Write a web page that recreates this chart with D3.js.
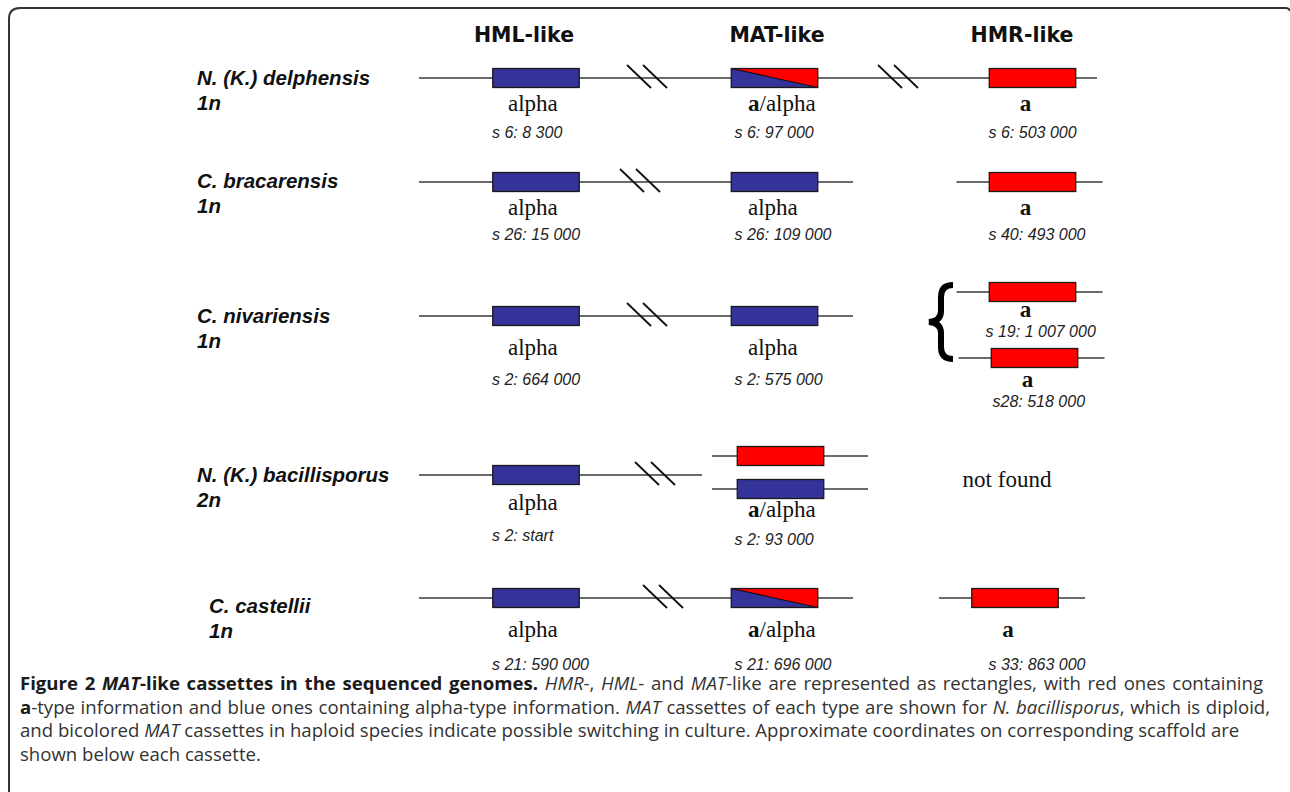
<!DOCTYPE html>
<html><head><meta charset="utf-8">
<script src="https://cdn.jsdelivr.net/npm/d3@7"></script>
<style>body{margin:0;background:#fff} svg{display:block}</style>
</head><body><svg id="c" width="1290" height="792"></svg>
<script>
// ---------- data ----------
const columns = ["HML-like", "MAT-like", "HMR-like"];
const species = ["N. (K.) delphensis", "C. bracarensis", "C. nivariensis", "N. (K.) bacillisporus", "C. castellii"];
const ploidy = ["1n", "1n", "1n", "2n", "1n"];
const hmlBoxes = [["alpha"], ["alpha"], ["alpha"], ["alpha"], ["alpha"]];
const hmlLabel = ["alpha", "alpha", "alpha", "alpha", "alpha"];
const hmlCoord = ["s 6: 8 300", "s 26: 15 000", "s 2: 664 000", "s 2: start", "s 21: 590 000"];
const matBoxes = [["a/alpha"], ["alpha"], ["alpha"], ["a", "alpha"], ["a/alpha"]];
const matLabel = ["a/alpha", "alpha", "alpha", "a/alpha", "a/alpha"];
const matCoord = ["s 6: 97 000", "s 26: 109 000", "s 2: 575 000", "s 2: 93 000", "s 21: 696 000"];
const hmrBoxes = [["a"], ["a"], ["a", "a"], [], ["a"]];
const hmrLabel = [["a"], ["a"], ["a", "a"], ["not found"], ["a"]];
const hmrCoord = [["s 6: 503 000"], ["s 40: 493 000"], ["s 19: 1 007 000", "s28: 518 000"], [], ["s 33: 863 000"]];
const matHmrLinked = [true, false, false, false, false];
const captionLines = [
  [["Figure 2 ", "b"], ["MAT", "bi"], ["-like cassettes in the sequenced genomes. ", "b"], ["HMR", "i"], ["-, ", ""], ["HML", "i"], ["- and ", ""], ["MAT", "i"], ["-like are represented as rectangles, with red ones containing", ""]],
  [["a", "b"], ["-type information and blue ones containing alpha-type information. ", ""], ["MAT", "i"], [" cassettes of each type are shown for ", ""], ["N. bacillisporus", "i"], [", which is diploid,", ""]],
  [["and bicolored ", ""], ["MAT", "i"], [" cassettes in haploid species indicate possible switching in culture. Approximate coordinates on corresponding scaffold are", ""]],
  [["shown below each cassette.", ""]]
];

// ---------- layout ----------
const L = {
  lineStart: 419, boxW: 86.5, boxH: 19,
  speciesX: [197, 197, 197, 197, 209],
  speciesDy: [7, 6, 7, 7, 15],
  labelBase: [111, 215, 355, 510, 637],
  coordBase: [138, 240, 385, 541, 670],
  breakX: [627, 620, 627, 635, 643],
  linkBreakX: 878,
  diploidDy: [-19, 14], diploidDx: 6,
  splitDy: [-24, 42], splitDx: [0, 2],
  splitLabel: [317, 387], splitCoord: [337, 407],
  hmrShift: [0, 0, 0, 0, -17.5],
  captionX: 20, captionBase: [690, 714, 737.5, 761], captionEnd: [1263, 1270, 1240, null]
};

const svg = d3.select("#c");
const colX = d3.scaleOrdinal().domain(columns).range([536, 774.5, 1032.5]);
const headX = d3.scaleOrdinal().domain(columns).range([524, 777, 1022]);
const rowY = d3.scaleOrdinal().domain(species).range([78, 182, 316, 475, 598]);
const fill = d3.scaleOrdinal().domain(["alpha", "a"]).range(["#333399", "#ff0000"]);
const LINE = "#3a3a3a";

// frame
svg.append("path").attr("d", "M9,800 V19 Q9,8 20,8 H1286 Q1289,8 1290,11")
  .attr("fill", "none").attr("stroke", "#333").attr("stroke-width", 2);

// headers
svg.selectAll("text.head").data(columns).join("text").attr("class", "head")
  .attr("x", d => headX(d)).attr("y", 42).attr("text-anchor", "middle")
  .attr("font-family", "DejaVu Sans").attr("font-weight", "bold").attr("font-size", 20.5)
  .attr("fill", "#111").text(d => d);

// species labels
species.forEach((sp, i) => {
  const y = rowY(sp) + L.speciesDy[i];
  [sp, ploidy[i]].forEach((t, k) => {
    svg.append("text").attr("x", L.speciesX[i]).attr("y", y + 25 * k)
      .attr("font-family", "Liberation Sans, Arial").attr("font-weight", "bold")
      .attr("font-style", "italic").attr("font-size", 20.5).attr("fill", "#111").text(t);
  });
});

// build geometry from data
const segs = [], boxes = [], breaks = [], labels = [], coords = [];
species.forEach((sp, i) => {
  const y = rowY(sp);
  const hx = colX("HML-like"), mx = colX("MAT-like"), rx = colX("HMR-like") + L.hmrShift[i];
  // HML
  hmlBoxes[i].forEach(t => boxes.push({ x: hx, y, t }));
  labels.push({ x: hx - 28, y: L.labelBase[i], t: hmlLabel[i], anchor: "start" });
  coords.push({ x: hx - 44, y: L.coordBase[i], t: hmlCoord[i] });
  // MAT
  const diploid = matBoxes[i].length > 1;
  if (diploid) {
    segs.push({ x1: L.lineStart, x2: 702, y });
    matBoxes[i].forEach((t, k) => {
      const yy = y + L.diploidDy[k], xx = mx + L.diploidDx;
      segs.push({ x1: xx - 68.5, x2: xx + 87.5, y: yy });
      boxes.push({ x: xx, y: yy, t });
    });
  } else {
    const end = matHmrLinked[i] ? rx + 64.5 : mx + 78.5;
    segs.push({ x1: L.lineStart, x2: end, y });
    matBoxes[i].forEach(t => boxes.push({ x: mx, y, t }));
    if (matHmrLinked[i]) breaks.push({ x: L.linkBreakX, y });
  }
  breaks.push({ x: L.breakX[i], y });
  labels.push({ x: mx - 26.5, y: L.labelBase[i] + (diploid ? 7 : 0), t: matLabel[i], anchor: "start" });
  coords.push({ x: mx - 40, y: L.coordBase[i] + (diploid ? 4 : 0), t: matCoord[i] });
  // HMR
  const nb = hmrBoxes[i].length;
  if (nb === 0) {
    labels.push({ x: 1007, y: 487, t: hmrLabel[i][0], anchor: "middle" });
  }
  hmrBoxes[i].forEach((t, k) => {
    const split = nb > 1;
    const yy = split ? y + L.splitDy[k] : y;
    const xx = split ? rx + L.splitDx[k] : rx;
    if (!matHmrLinked[i]) segs.push({ x1: xx - 76, x2: xx + 70, y: yy });
    boxes.push({ x: xx, y: yy, t });
    labels.push({ x: xx - 7, y: split ? L.splitLabel[k] : L.labelBase[i], t: hmrLabel[i][k], anchor: "middle" });
    coords.push({ x: split ? xx - 47 + 5 * k : colX("HMR-like") - 44, y: split ? L.splitCoord[k] : L.coordBase[i], t: hmrCoord[i][k] });
  });
});

// lines
svg.append("g").selectAll("line").data(segs).join("line")
  .attr("x1", d => d.x1).attr("x2", d => d.x2).attr("y1", d => d.y).attr("y2", d => d.y)
  .attr("stroke", LINE).attr("stroke-width", 1.5);

// break marks
const gb = svg.append("g");
breaks.forEach(b => {
  [0, 16].forEach(o => {
    gb.append("line").attr("x1", b.x + o).attr("y1", b.y - 13).attr("x2", b.x + o + 24).attr("y2", b.y + 10)
      .attr("stroke", "#111").attr("stroke-width", 1.8);
  });
});

// boxes
const gx = svg.append("g");
boxes.forEach(b => {
  const x0 = b.x - L.boxW / 2, y0 = b.y - L.boxH / 2, x1 = x0 + L.boxW, y1 = y0 + L.boxH;
  if (b.t === "a/alpha") {
    gx.append("rect").attr("x", x0).attr("y", y0).attr("width", L.boxW).attr("height", L.boxH).attr("fill", fill("alpha"));
    gx.append("path").attr("d", `M${x0},${y0} L${x1},${y0} L${x1},${y1} Z`).attr("fill", fill("a"));
    gx.append("line").attr("x1", x0).attr("y1", y0).attr("x2", x1).attr("y2", y1).attr("stroke", "#111").attr("stroke-width", 1.2);
    gx.append("rect").attr("x", x0).attr("y", y0).attr("width", L.boxW).attr("height", L.boxH)
      .attr("fill", "none").attr("stroke", "#1a1a1a").attr("stroke-width", 1.3);
  } else {
    gx.append("rect").attr("x", x0).attr("y", y0).attr("width", L.boxW).attr("height", L.boxH)
      .attr("fill", fill(b.t)).attr("stroke", "#1a1a1a").attr("stroke-width", 1.3);
  }
});

// brace
svg.append("path")
  .attr("d", "M953,285 Q941,285 941,297 L941,311 Q941,321 929,322 Q941,323 941,333 L941,347 Q941,359 953,359")
  .attr("fill", "none").attr("stroke", "#000").attr("stroke-width", 6);

// cassette labels
labels.forEach(l => {
  const t = svg.append("text").attr("x", l.x).attr("y", l.y).attr("text-anchor", l.anchor)
    .attr("font-family", "Liberation Serif, Times New Roman").attr("font-size", 23).attr("fill", "#111");
  if (l.t === "a/alpha") { t.append("tspan").attr("font-weight", "bold").text("a"); t.append("tspan").text("/alpha"); }
  else if (l.t === "a") t.append("tspan").attr("font-weight", "bold").text("a");
  else t.text(l.t);
});

// coordinates
svg.selectAll("text.coord").data(coords).join("text").attr("class", "coord")
  .attr("x", d => d.x).attr("y", d => d.y)
  .attr("font-family", "Liberation Sans, Arial").attr("font-style", "italic").attr("font-size", 16)
  .attr("fill", "#222").text(d => d.t);

// caption
const cg = svg.append("g");
const capTexts = captionLines.map((segsC, li) => {
  const t = cg.append("text").attr("x", 0).attr("y", L.captionBase[li])
    .attr("font-family", "Open Sans").attr("font-size", 17.5).attr("fill", "#333");
  segsC.forEach(([s, st]) => {
    const ts = t.append("tspan").text(s);
    if (st.includes("b")) ts.attr("font-weight", "bold").attr("fill", "#1a1a1a");
    if (st.includes("i")) ts.attr("font-style", "italic");
  });
  return t;
});
const nat3 = capTexts[2].node().getComputedTextLength();
const sx = (L.captionEnd[2] - L.captionX) / nat3;
cg.attr("transform", `translate(${L.captionX},0) scale(${sx},1)`);
capTexts.forEach((t, li) => {
  if (li >= 2) return;
  const w = t.node().getComputedTextLength();
  const full = captionLines[li].map(d => d[0]).join("");
  const nSp = (full.match(/ /g) || []).length;
  const ws = ((L.captionEnd[li] - L.captionX) / sx - w) / nSp;
  t.style("word-spacing", ws + "px");
});
</script></body></html>
